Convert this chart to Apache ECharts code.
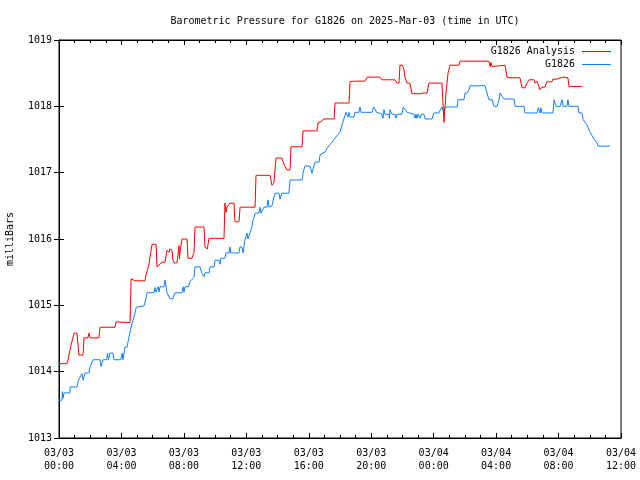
<!DOCTYPE html>
<html>
<head>
<meta charset="utf-8">
<script src="https://cdn.jsdelivr.net/npm/echarts@6/dist/echarts.min.js"></script>
<style>html,body{margin:0;padding:0;background:#fff}#c{width:640px;height:480px}</style>
</head>
<body>
<div id="c"></div>
<script>
const titleText = 'Barometric Pressure for G1826 on 2025-Mar-03 (time in UTC)';
const yName = 'milliBars';
const seriesNames = ['G1826 Analysis', 'G1826'];
const xTickLabels = ['03/03\n00:00','03/03\n04:00','03/03\n08:00','03/03\n12:00','03/03\n16:00','03/03\n20:00','03/04\n00:00','03/04\n04:00','03/04\n08:00','03/04\n12:00'];
const yTicks = [1013, 1014, 1015, 1016, 1017, 1018, 1019];

// [hours since 03/03 00:00 UTC, mbar]
const analysisPoints = [
[0,1014.12],[0.51,1014.12],[0.60,1014.20],[0.70,1014.33],[0.90,1014.52],[0.96,1014.58],[1.15,1014.58],[1.22,1014.60],[1.28,1014.25],[1.54,1014.25],[1.60,1014.51],[1.85,1014.51],[1.92,1014.58],[1.99,1014.51],[2.56,1014.51],[2.63,1014.67],[3.59,1014.67],[3.65,1014.75],[4.55,1014.74],[4.62,1015.40],[4.87,1015.37],[5.51,1015.37],[5.57,1015.46],[5.75,1015.60],[5.96,1015.92],[6.22,1015.92],[6.28,1015.58],[6.40,1015.60],[6.60,1015.65],[6.79,1015.65],[6.92,1015.83],[7.05,1015.80],[7.10,1015.85],[7.24,1015.83],[7.30,1015.68],[7.37,1015.64],[7.56,1015.64],[7.69,1015.90],[7.72,1015.70],[7.75,1015.80],[7.88,1016.0],[8.20,1016.0],[8.26,1015.71],[8.52,1015.71],[8.65,1015.80],[8.71,1016.18],[9.29,1016.18],[9.35,1015.88],[9.50,1015.85],[9.61,1016.01],[10.57,1016.01],[10.63,1016.54],[10.70,1016.40],[10.76,1016.48],[10.83,1016.48],[10.95,1016.54],[11.21,1016.54],[11.27,1016.26],[11.53,1016.26],[11.60,1016.48],[12.56,1016.48],[12.62,1016.96],[12.70,1016.98],[13.52,1016.96],[13.64,1016.81],[13.77,1016.85],[13.90,1017.22],[14.28,1017.22],[14.41,1017.12],[14.61,1017.04],[14.80,1017.04],[14.86,1017.39],[15.57,1017.39],[15.63,1017.63],[16.53,1017.63],[16.59,1017.75],[16.78,1017.77],[16.90,1017.75],[16.98,1017.81],[17.62,1017.81],[17.68,1018.05],[18.58,1018.05],[18.64,1018.37],[18.90,1018.38],[19.60,1018.38],[19.73,1018.44],[20.56,1018.44],[20.69,1018.40],[21.52,1018.40],[21.65,1018.35],[21.78,1018.35],[21.84,1018.62],[22.0,1018.62],[22.10,1018.55],[22.16,1018.44],[22.29,1018.35],[22.48,1018.35],[22.61,1018.19],[23.13,1018.19],[23.26,1018.20],[23.57,1018.20],[23.70,1018.35],[24.53,1018.35],[24.60,1018.35],[24.66,1017.76],[24.73,1017.76],[24.79,1018.20],[24.92,1018.50],[25.05,1018.62],[25.62,1018.62],[25.69,1018.68],[27.54,1018.68],[27.61,1018.60],[27.67,1018.66],[27.74,1018.60],[27.86,1018.62],[28.57,1018.62],[28.70,1018.44],[28.89,1018.43],[29.53,1018.43],[29.66,1018.28],[29.85,1018.28],[29.98,1018.35],[30.11,1018.40],[30.43,1018.40],[30.49,1018.35],[30.62,1018.38],[30.81,1018.25],[30.94,1018.29],[31.13,1018.29],[31.26,1018.37],[31.58,1018.37],[31.64,1018.41],[31.90,1018.41],[31.96,1018.44],[32.29,1018.44],[32.60,1018.43],[32.67,1018.30],[33.50,1018.30]
];

const observedPoints = [
[0,1013.57],[0.19,1013.57],[0.22,1013.70],[0.26,1013.60],[0.32,1013.68],[0.70,1013.68],[0.72,1013.77],[1.15,1013.77],[1.22,1013.85],[1.35,1013.92],[1.47,1013.97],[1.55,1013.87],[1.67,1013.98],[1.92,1013.98],[1.99,1014.07],[2.11,1014.07],[2.18,1014.18],[2.63,1014.18],[2.69,1014.08],[2.82,1014.18],[3.07,1014.18],[3.10,1014.28],[3.17,1014.18],[3.27,1014.28],[3.45,1014.28],[3.52,1014.18],[3.95,1014.18],[4.04,1014.28],[4.10,1014.18],[4.16,1014.18],[4.23,1014.37],[4.36,1014.37],[4.48,1014.52],[4.68,1014.73],[4.80,1014.82],[4.95,1014.97],[5.44,1014.99],[5.55,1015.08],[5.64,1015.19],[6.09,1015.19],[6.15,1015.27],[6.21,1015.20],[6.28,1015.22],[6.35,1015.28],[6.41,1015.20],[6.47,1015.28],[6.73,1015.28],[6.79,1015.38],[6.92,1015.19],[7.11,1015.10],[7.30,1015.10],[7.43,1015.19],[7.88,1015.19],[7.95,1015.28],[8.01,1015.20],[8.07,1015.28],[8.30,1015.28],[8.39,1015.36],[8.65,1015.42],[8.71,1015.58],[9.03,1015.58],[9.16,1015.48],[9.29,1015.43],[9.35,1015.49],[9.61,1015.49],[9.67,1015.58],[9.93,1015.58],[9.99,1015.68],[10.25,1015.68],[10.31,1015.62],[10.37,1015.71],[10.63,1015.71],[10.70,1015.79],[10.90,1015.79],[10.95,1015.88],[11.0,1015.79],[11.53,1015.79],[11.59,1015.88],[11.72,1015.88],[11.79,1015.79],[11.91,1015.98],[12.04,1016.09],[12.10,1016.00],[12.17,1016.05],[12.36,1016.18],[12.42,1016.28],[12.49,1016.32],[12.56,1016.39],[12.81,1016.39],[12.88,1016.48],[12.94,1016.39],[13.0,1016.39],[13.13,1016.48],[13.32,1016.48],[13.39,1016.59],[13.45,1016.48],[13.64,1016.50],[13.77,1016.63],[13.84,1016.69],[14.09,1016.69],[14.16,1016.60],[14.28,1016.69],[14.73,1016.69],[14.80,1016.89],[15.57,1016.89],[15.63,1017.0],[15.76,1017.10],[16.08,1017.10],[16.21,1016.99],[16.33,1017.10],[16.40,1017.16],[16.66,1017.16],[16.72,1017.27],[17.04,1017.31],[17.17,1017.37],[17.36,1017.42],[17.49,1017.46],[17.68,1017.52],[17.81,1017.56],[18.00,1017.61],[18.13,1017.72],[18.38,1017.91],[18.51,1017.84],[18.58,1017.91],[18.64,1017.84],[18.90,1017.84],[18.96,1017.91],[19.22,1017.91],[19.28,1017.99],[19.35,1017.91],[20.05,1017.91],[20.15,1017.99],[20.24,1017.99],[20.35,1017.91],[20.50,1017.90],[20.69,1017.88],[20.75,1017.82],[20.82,1017.95],[20.88,1017.88],[21.14,1017.88],[21.17,1017.82],[21.20,1017.95],[21.33,1017.88],[21.52,1017.88],[21.58,1017.82],[21.65,1017.88],[21.97,1017.88],[22.05,1017.99],[22.16,1017.99],[22.30,1017.91],[22.42,1017.88],[22.74,1017.88],[22.80,1017.82],[22.87,1017.88],[22.93,1017.82],[23.0,1017.88],[23.13,1017.82],[23.20,1017.88],[23.38,1017.88],[23.45,1017.81],[23.89,1017.81],[24.02,1017.90],[24.34,1017.90],[24.41,1017.94],[24.53,1017.99],[24.66,1017.90],[24.73,1017.99],[25.50,1017.99],[25.56,1018.10],[25.94,1018.10],[26.01,1018.20],[26.14,1018.20],[26.26,1018.25],[26.33,1018.31],[27.29,1018.31],[27.42,1018.20],[27.54,1018.10],[27.74,1018.10],[27.86,1018.0],[28.06,1018.0],[28.19,1018.10],[28.25,1018.20],[28.38,1018.15],[28.51,1018.11],[29.15,1018.11],[29.21,1018.0],[29.79,1018.0],[29.85,1017.90],[30.62,1017.90],[30.70,1017.98],[30.81,1017.90],[30.87,1017.98],[30.94,1017.90],[31.64,1017.90],[31.71,1018.10],[31.84,1018.0],[32.10,1018.0],[32.22,1018.10],[32.29,1018.0],[32.54,1018.0],[32.60,1018.10],[32.67,1018.0],[33.25,1018.0],[33.31,1017.90],[33.50,1017.90],[33.57,1017.80],[33.82,1017.72],[34.0,1017.62],[34.14,1017.56],[34.30,1017.50],[34.46,1017.45],[34.53,1017.40],[35.30,1017.40]
];

const FONT = 'DejaVu Sans Mono';
const chart = echarts.init(document.getElementById('c'), null, {renderer: 'canvas'});
const axisLineStyle = {color: '#000', width: 1};
chart.setOption({
  animation: false,
  backgroundColor: '#fff',
  title: {
    text: titleText, left: 340, top: 11, textAlign: 'center',
    textStyle: {fontFamily: FONT, fontSize: 10, fontWeight: 'normal', color: '#000'}
  },
  legend: {
    orient: 'vertical', right: 24, top: 40, align: 'right',
    itemWidth: 29, itemHeight: 1, itemGap: 0, icon: 'rect',
    textStyle: {fontFamily: FONT, fontSize: 10, color: '#000', lineHeight: 13, padding: [0, 2, 0, 0]},
    data: seriesNames
  },
  grid: {left: 59, right: 19, top: 40, bottom: 42, show: true, borderColor: '#000', borderWidth: 1,
    containLabel: false, outerBoundsMode: 'none'},
  xAxis: [{
    type: 'value', min: 0, max: 36, interval: 4, position: 'bottom',
    axisLine: {show: true, lineStyle: axisLineStyle},
    axisTick: {show: true, inside: true, length: 5, lineStyle: axisLineStyle},
    minorTick: {show: true, splitNumber: 4, length: 3, lineStyle: axisLineStyle},
    splitLine: {show: false},
    axisLabel: {fontFamily: FONT, fontSize: 10, color: '#000', lineHeight: 13, margin: 9,
      formatter: v => xTickLabels[Math.round(v / 4)]}
  }, {
    type: 'value', min: 0, max: 36, interval: 4, position: 'top',
    axisLine: {show: true, lineStyle: axisLineStyle},
    axisTick: {show: true, inside: true, length: 5, lineStyle: axisLineStyle},
    minorTick: {show: true, splitNumber: 4, length: 3, lineStyle: axisLineStyle},
    splitLine: {show: false}, axisLabel: {show: false}
  }],
  yAxis: [{
    type: 'value', min: yTicks[0], max: yTicks[yTicks.length - 1], interval: 1, position: 'left',
    name: yName, nameLocation: 'middle', nameGap: 44, nameRotate: 90,
    nameTextStyle: {fontFamily: FONT, fontSize: 10, color: '#000'},
    axisLine: {show: true, lineStyle: axisLineStyle},
    axisTick: {show: true, inside: true, length: 5, lineStyle: axisLineStyle},
    splitLine: {show: false},
    axisLabel: {fontFamily: FONT, fontSize: 10, color: '#000', margin: 7, formatter: v => String(v)}
  }, {
    type: 'value', min: yTicks[0], max: yTicks[yTicks.length - 1], interval: 1, position: 'right',
    axisLine: {show: true, lineStyle: axisLineStyle},
    axisTick: {show: true, inside: true, length: 5, lineStyle: axisLineStyle},
    splitLine: {show: false}, axisLabel: {show: false}
  }],
  series: [{
    name: seriesNames[0], type: 'line', data: analysisPoints, showSymbol: false, symbol: 'none',
    color: '#ff0000', lineStyle: {color: '#ff0000', width: 1}, z: 3
  }, {
    name: seriesNames[1], type: 'line', data: observedPoints, showSymbol: false, symbol: 'none',
    color: '#1080ff', lineStyle: {color: '#1080ff', width: 1}, z: 2
  }]
});
</script>
</body>
</html>
